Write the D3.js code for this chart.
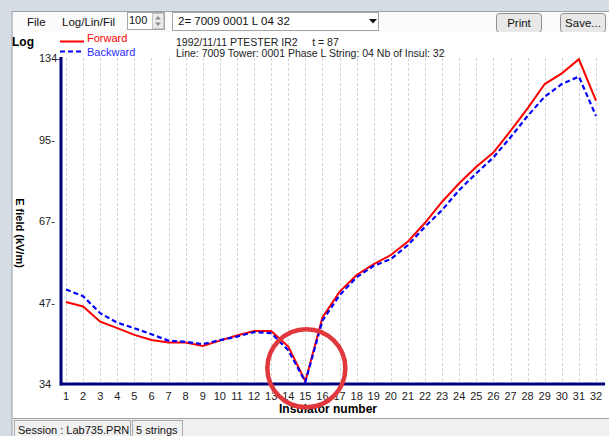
<!DOCTYPE html>
<html>
<head>
<meta charset="utf-8">
<script src="https://cdn.jsdelivr.net/npm/d3@7"></script>
<style>
  body { margin: 0; background: #d6dce3; }
  svg { display: block; font-family: "Liberation Sans", Arial, sans-serif; }
</style>
</head>
<body>
<svg id="chart" width="609" height="436"></svg>
<script>
// insulator positions along the string
var insulators = [1,2,3,4,5,6,7,8,9,10,11,12,13,14,15,16,17,18,19,20,21,22,23,24,25,26,27,28,29,30,31,32];

// E field (kV/m)
var forward = [48.0,47.1,44.2,43.0,41.8,40.9,40.5,40.5,39.9,40.8,41.7,42.5,42.5,39.8,34.4,45.0,
               50.1,53.8,56.3,58.5,61.9,67.0,73.2,79.1,84.8,90.0,98.6,108.4,120.1,125.6,133.3,112.0];
var backward = [50.6,49.2,45.8,44.0,43.0,41.9,40.8,40.6,40.2,40.9,41.5,42.3,42.1,39.2,34.3,44.4,
                49.4,53.3,55.9,57.5,61.0,65.9,70.7,76.9,82.5,88.2,96.0,105.0,113.9,120.1,123.9,105.0];

// log axis: tick positions and the (truncated) labels the tool prints
var yTickValues = [34, 47.9, 67.5, 95.1, 134];
var yTickLabels = ["34", "47-", "67-", "95-", "134-"];

var svg = d3.select("#chart");

// ---- window chrome ----
svg.append("rect").attr("width", 609).attr("height", 436).attr("fill", "#d6dce3");
svg.append("rect").attr("x", 12).attr("y", 11).attr("width", 597).attr("height", 425).attr("fill", "#f0f0f0");
svg.append("line").attr("x1", 12).attr("x2", 12).attr("y1", 11).attr("y2", 436).attr("stroke", "#9aa3ad");
svg.append("line").attr("x1", 12).attr("x2", 609).attr("y1", 11.5).attr("y2", 11.5).attr("stroke", "#9aa3ad");

// menu / tool bar
svg.append("rect").attr("x", 13).attr("y", 12).attr("width", 596).attr("height", 20).attr("fill", "#fbfbfb");
svg.append("text").attr("x", 27).attr("y", 26).attr("font-size", 11.5).attr("fill", "#111").text("File");
svg.append("text").attr("x", 62).attr("y", 26).attr("font-size", 11.5).attr("fill", "#111").text("Log/Lin/Fil");

// spin box
svg.append("rect").attr("x", 127.5).attr("y", 12.5).attr("width", 37).attr("height", 17)
  .attr("fill", "#fff").attr("stroke", "#a5a5a5");
svg.append("text").attr("x", 129).attr("y", 24).attr("font-size", 11).attr("fill", "#111").text("100");
svg.append("rect").attr("x", 152.5).attr("y", 13.5).attr("width", 11).attr("height", 15)
  .attr("fill", "#ececec").attr("stroke", "#c4c4c4");
svg.append("path").attr("d", "M155,19.5 L158,16 L161,19.5 Z").attr("fill", "#8a8a8a");
svg.append("path").attr("d", "M155,22.5 L158,26 L161,22.5 Z").attr("fill", "#8a8a8a");

// combo box
svg.append("rect").attr("x", 172.5).attr("y", 12.5).attr("width", 206).attr("height", 18)
  .attr("fill", "#fff").attr("stroke", "#a5a5a5");
svg.append("text").attr("x", 178).attr("y", 25).attr("font-size", 11.5).attr("fill", "#111").text("2= 7009 0001 L 04 32");
svg.append("path").attr("d", "M369,19 L377,19 L373,23.5 Z").attr("fill", "#111");

// buttons
[["Print", 496, 45], ["Save...", 560, 45]].forEach(function (b) {
  svg.append("rect").attr("x", b[1] + 0.5).attr("y", 13.5).attr("width", b[2]).attr("height", 19)
    .attr("rx", 3).attr("fill", "#e8e8e8").attr("stroke", "#8f8f8f");
  svg.append("text").attr("x", b[1] + b[2] / 2 + 0.5).attr("y", 27).attr("text-anchor", "middle")
    .attr("font-size", 11.5).attr("fill", "#111").text(b[0]);
});

// plot canvas
svg.append("rect").attr("x", 13).attr("y", 32).attr("width", 596).attr("height", 386).attr("fill", "#fff");
svg.append("line").attr("x1", 13).attr("x2", 609).attr("y1", 418.5).attr("y2", 418.5).attr("stroke", "#a0a0a0");

// ---- chart ----
var x = d3.scaleLinear().domain([1, 32]).range([66, 596]);
var y = d3.scaleLog().domain([34, 134]).range([384, 58]);

// grid
svg.append("g").selectAll("line").data(insulators).enter().append("line")
  .attr("x1", function (d) { return Math.round(x(d)) + 0.5 })
  .attr("x2", function (d) { return Math.round(x(d)) + 0.5 })
  .attr("y1", 58).attr("y2", 383)
  .attr("stroke", "#d4d4d4").attr("stroke-dasharray", "3,2");

// x labels
svg.append("g").selectAll("text").data(insulators).enter().append("text")
  .attr("x", function (d) { return x(d) })
  .attr("y", 400)
  .attr("text-anchor", "middle")
  .attr("font-size", 11).attr("fill", "#222")
  .text(function (d) { return d });

// y labels
svg.append("g").selectAll("text").data(yTickValues).enter().append("text")
  .attr("x", 39)
  .attr("y", function (d) { return y(d) + 4 })
  .attr("font-size", 11).attr("fill", "#222")
  .text(function (d, i) { return yTickLabels[i] });

// axes
svg.append("line").attr("x1", 61).attr("x2", 61).attr("y1", 57).attr("y2", 385.5)
  .attr("stroke", "#00007f").attr("stroke-width", 3);
svg.append("line").attr("x1", 60).attr("x2", 605).attr("y1", 384).attr("y2", 384)
  .attr("stroke", "#00007f").attr("stroke-width", 3);

// titles
svg.append("text").attr("x", 12).attr("y", 46).attr("font-size", 12).attr("font-weight", "bold").text("Log");
svg.append("text").attr("x", 176).attr("y", 46).attr("font-size", 10.5).attr("fill", "#222")
  .attr("xml:space", "preserve").text("1992/11/11 PTESTER IR2     t = 87");
svg.append("text").attr("x", 176).attr("y", 57).attr("font-size", 10.5).attr("fill", "#222")
  .text("Line: 7009 Tower: 0001 Phase L String: 04 Nb of Insul: 32");
svg.append("text")
  .attr("transform", "translate(16,233) rotate(90)")
  .attr("text-anchor", "middle")
  .attr("font-size", 11).attr("font-weight", "bold")
  .text("E field  (kV/m)");
svg.append("text").attr("x", 328).attr("y", 413).attr("text-anchor", "middle")
  .attr("font-size", 12).attr("font-weight", "bold").text("Insulator number");

// legend
svg.append("line").attr("x1", 60).attr("x2", 84).attr("y1", 41.5).attr("y2", 41.5)
  .attr("stroke", "#ff0000").attr("stroke-width", 2);
svg.append("text").attr("x", 87).attr("y", 42).attr("font-size", 11).attr("fill", "#ff0000").text("Forward");
svg.append("line").attr("x1", 60).attr("x2", 84).attr("y1", 51.5).attr("y2", 51.5)
  .attr("stroke", "#0000ff").attr("stroke-width", 2).attr("stroke-dasharray", "5,3");
svg.append("text").attr("x", 87).attr("y", 56).attr("font-size", 11).attr("fill", "#2a2aff").text("Backward");

// series
var line = d3.line()
  .x(function (d, i) { return x(insulators[i]) })
  .y(function (d) { return y(d) });

svg.append("path").datum(forward).attr("d", line)
  .attr("fill", "none").attr("stroke", "#ff0000").attr("stroke-width", 2);
svg.append("path").datum(backward).attr("d", line)
  .attr("fill", "none").attr("stroke", "#0000ff").attr("stroke-width", 2.2).attr("stroke-dasharray", "5,3");

// highlight circle round the dip at insulator 15
var dip = forward.indexOf(d3.min(forward));
svg.append("circle")
  .attr("cx", x(insulators[dip]) + 1)
  .attr("cy", y(forward[dip]) - 13)
  .attr("r", 39)
  .attr("fill", "none").attr("stroke", "#e0383d").attr("stroke-width", 4.5);

// status bar
[["Session : Lab735.PRN", 14, 116], ["5 strings", 132, 50]].forEach(function (s) {
  svg.append("rect").attr("x", s[1] + 0.5).attr("y", 420.5).attr("width", s[2]).attr("height", 18)
    .attr("fill", "#f0f0f0").attr("stroke", "#a8a8a8");
  svg.append("text").attr("x", s[1] + 4).attr("y", 434).attr("font-size", 11).attr("fill", "#111").text(s[0]);
});
</script>
</body>
</html>
